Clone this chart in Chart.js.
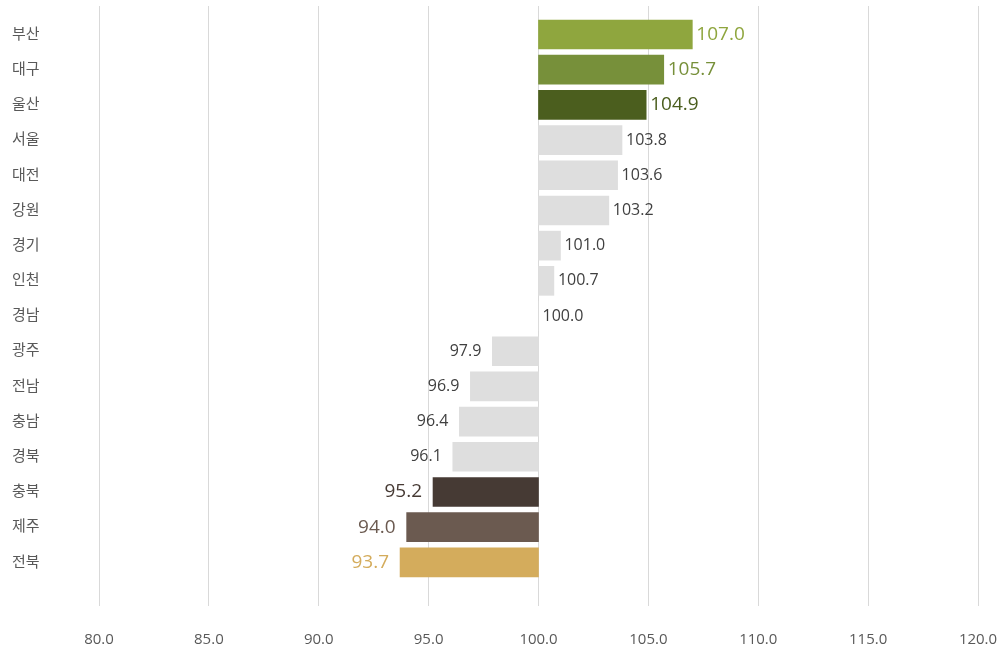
<!DOCTYPE html>
<html lang="ko">
<head>
<meta charset="utf-8">
<title>지역별 지수</title>
<script src="https://cdn.jsdelivr.net/npm/chart.js@4.4.1/dist/chart.umd.min.js"></script>
<style>
    html, body { margin: 0; padding: 0; background: #fff; }
    #wrap { width: 1000px; height: 653px; position: relative; }
</style>
</head>
<body>
<div id="wrap"><canvas id="chart"></canvas></div>
<script>
// Data
const regions = ['부산', '대구', '울산', '서울', '대전', '강원', '경기', '인천', '경남', '광주', '전남', '충남', '경북', '충북', '제주', '전북'];
const values = [107.0, 105.7, 104.9, 103.8, 103.6, 103.2, 101.0, 100.7, 100.0, 97.9, 96.9, 96.4, 96.1, 95.2, 94.0, 93.7];
const baseline = 100;
const xTicks = [80, 85, 90, 95, 100, 105, 110, 115, 120];

// Styling
const FONT = "'Open Sans', 'Noto Sans CJK KR', sans-serif";
const GRAY = '#DEDEDE';
const highlight = {
    '부산': '#8FA63E',
    '대구': '#77903A',
    '울산': '#4B5E1E',
    '충북': '#463A34',
    '제주': '#6B5A50',
    '전북': '#D4AC5C'
};

const barColors = regions.map(r => highlight[r] || GRAY);

// value labels at the outer end of each bar
const valueLabels = {
    id: 'valueLabels',
    afterDatasetsDraw(chart) {
        const ctx = chart.ctx;
        const meta = chart.getDatasetMeta(0);
        ctx.save();
        ctx.textBaseline = 'middle';
        meta.data.forEach((el, i) => {
            const v = values[i];
            const hl = highlight[regions[i]];
            ctx.font = (hl ? 19 : 16) + 'px ' + FONT;
            ctx.fillStyle = hl || '#404040';
            const text = v.toFixed(1);
            if (v >= baseline) {
                ctx.textAlign = 'left';
                ctx.fillText(text, Math.max(el.x, el.base) + 4, el.y);
            } else {
                ctx.textAlign = 'right';
                ctx.fillText(text, Math.min(el.x, el.base) - 11, el.y);
            }
        });
        ctx.restore();
    }
};

const ctx = document.getElementById('chart').getContext('2d');
new Chart(ctx, {
    type: 'bar',
    data: {
        datasets: [{
            data: values.map((v, i) => ({ x: [baseline, v], y: i })),
            backgroundColor: barColors,
            borderWidth: 0,
            barThickness: 29
        }]
    },
    options: {
        indexAxis: 'y',
        responsive: true,
        maintainAspectRatio: false,
        animation: false,
        layout: { padding: { left: 12, top: 6, right: 22, bottom: 4 } },
        plugins: {
            legend: { display: false },
            tooltip: { enabled: false }
        },
        scales: {
            x: {
                type: 'linear',
                min: 80,
                max: 120,
                afterBuildTicks: scale => { scale.ticks = xTicks.map(v => ({ value: v })); },
                afterFit: scale => {
                    scale.height = 43;
                    scale.paddingLeft = 0;
                    scale.paddingRight = 0;
                },
                ticks: {
                    callback: v => Number(v).toFixed(1),
                    color: '#595959',
                    font: { family: FONT, size: 15 },
                    padding: 25,
                    maxRotation: 0
                },
                grid: { color: '#D9D9D9', lineWidth: 1, drawTicks: false },
                border: { display: false }
            },
            y: {
                type: 'linear',
                reverse: true,
                offset: false,
                min: -0.81,
                max: 16.24,
                afterBuildTicks: scale => { scale.ticks = regions.map((_, i) => ({ value: i })); },
                afterFit: scale => {
                    scale.width = 87;
                    scale.paddingTop = 0;
                    scale.paddingBottom = 0;
                },
                ticks: {
                    callback: v => regions[v] || '',
                    color: '#595959',
                    font: { family: FONT, size: 15 },
                    crossAlign: 'far'
                },
                grid: { display: false },
                border: { display: false }
            }
        }
    },
    plugins: [valueLabels]
});
</script>
</body>
</html>
